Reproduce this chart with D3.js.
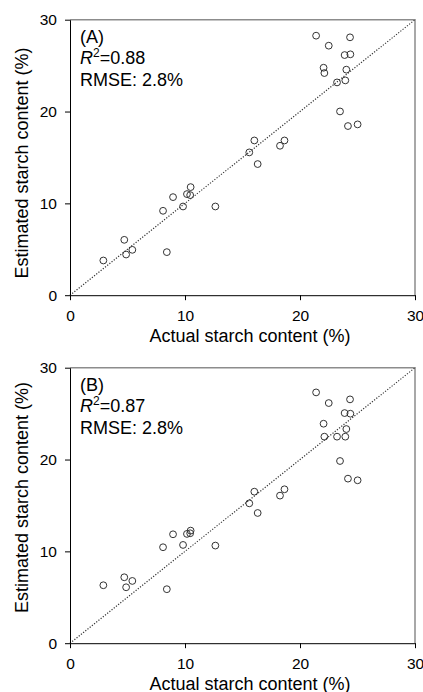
<!DOCTYPE html>
<html>
<head>
<meta charset="utf-8">
<title>starch-scatter</title>
<style>
body { margin: 0; background: #fff; font-family: "Liberation Sans", Arial, sans-serif; }
.tick text { font-size: 15.5px; fill: #000; }
.tick line, .domain { stroke: #000; }
</style>
</head>
<body>
<script src="https://cdn.jsdelivr.net/npm/d3@7"></script>
<script>
// actual starch content (%), same samples in both panels
var actual = [21.4, 22.5, 24.35, 23.88, 24.38, 22.05, 22.12, 24.03, 23.22, 23.94,
              23.48, 24.17, 25.01, 16.03, 18.65, 18.26, 15.59, 16.32, 10.49, 10.17,
              10.45, 8.96, 9.83, 12.64, 8.09, 4.72, 4.88, 5.42, 8.42, 2.9];
// estimated by model (A)
var estA = [28.26, 27.17, 28.08, 26.15, 26.23, 24.77, 24.19, 24.56, 23.17, 23.39,
            20.01, 18.42, 18.6, 16.85, 16.85, 16.27, 15.55, 14.28, 11.77, 11.01,
            10.9, 10.68, 9.66, 9.66, 9.19, 6.03, 4.43, 4.94, 4.69, 3.78];
// estimated by model (B)
var estB = [27.31, 26.15, 26.55, 25.06, 24.99, 23.9, 22.49, 23.32, 22.49, 22.49,
            19.84, 17.92, 17.74, 16.5, 16.76, 16.07, 15.23, 14.18, 12.26, 11.9,
            11.97, 11.86, 10.7, 10.63, 10.45, 7.18, 6.09, 6.78, 5.88, 6.31];
var ticks = [0, 10, 20, 30];
var panels = [
    { label: "(A)", r2: "=0.88", rmse: "RMSE: 2.8%", est: estA },
    { label: "(B)", r2: "=0.87", rmse: "RMSE: 2.8%", est: estB }
];

var W = 423, H = 692;
var svg = d3.select("body").append("svg").attr("width", W).attr("height", H);

var x = d3.scaleLinear().domain([0, 30]).range([70, 415]);
var tops = [19.7, 367.7], plotH = 275.5;
var yTitleY = [163, 497.5];

panels.forEach(function (p, i) {
    var top = tops[i], bottom = top + plotH;
    var y = d3.scaleLinear().domain([0, 30]).range([bottom, top]);
    var g = svg.append("g");

    // gray top / right frame
    g.append("path")
        .attr("d", "M" + x(0) + "," + y(30) + "H" + x(30) + "V" + y(0))
        .attr("fill", "none").attr("stroke", "#8c8c8c").attr("stroke-width", 1.5);

    // 1:1 line
    g.append("line")
        .attr("x1", x(0)).attr("y1", y(0)).attr("x2", x(30)).attr("y2", y(30))
        .attr("stroke", "#333").attr("stroke-width", 1.2).attr("stroke-dasharray", "1.2,1.6");

    g.append("g")
        .attr("transform", "translate(0," + bottom + ")")
        .call(d3.axisBottom(x).tickValues(ticks).tickSize(5).tickSizeOuter(0).tickPadding(6))
        .call(function (a) { a.selectAll(".tick text").attr("dy", "0.95em"); });

    g.append("g")
        .attr("transform", "translate(" + x(0) + ",0)")
        .call(d3.axisLeft(y).tickValues(ticks).tickSize(5).tickSizeOuter(0).tickPadding(8));

    g.selectAll("circle.pt")
        .data(actual.map(function (a, k) { return [a, p.est[k]]; }))
        .enter().append("circle")
        .attr("class", "pt")
        .attr("cx", function (d) { return x(d[0]); })
        .attr("cy", function (d) { return y(d[1]); })
        .attr("r", 3.4)
        .attr("fill", "none").attr("stroke", "#333").attr("stroke-width", 1);

    // annotation
    var ann = g.append("g").attr("font-size", "18px");
    ann.append("text").attr("x", 80).attr("y", top + 23).text(p.label);
    var r = ann.append("text").attr("x", 80).attr("y", top + 44.5);
    r.append("tspan").attr("font-style", "italic").text("R");
    r.append("tspan").attr("font-size", "12px").attr("dy", -7).text("2");
    r.append("tspan").attr("dy", 7).text(p.r2);
    ann.append("text").attr("x", 80).attr("y", top + 66).text(p.rmse);

    // axis titles
    g.append("text")
        .attr("x", 250).attr("y", bottom + 47)
        .attr("text-anchor", "middle").attr("font-size", "18px")
        .text("Actual starch content (%)");
    g.append("text")
        .attr("transform", "translate(28," + yTitleY[i] + ") rotate(-90)")
        .attr("text-anchor", "middle").attr("font-size", "18px")
        .text("Estimated starch content (%)");
});
</script>
</body>
</html>
